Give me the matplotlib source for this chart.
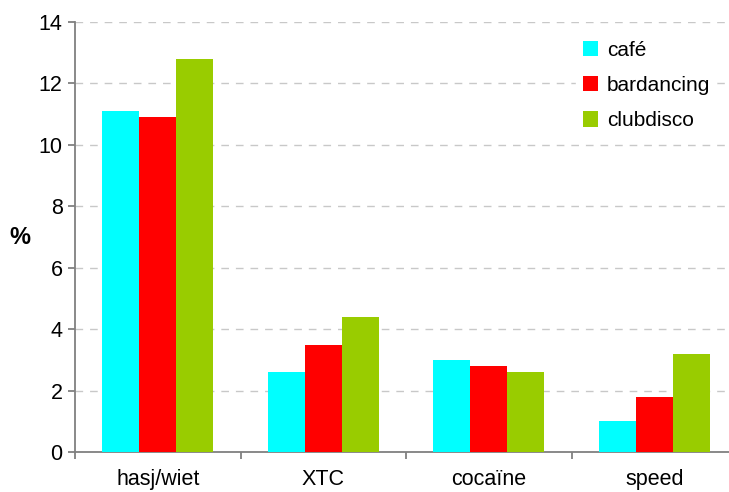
import numpy as np
import matplotlib
matplotlib.use("Agg")
import matplotlib.pyplot as plt

plt.rcParams['font.family'] = ['Liberation Sans', 'DejaVu Sans']

# Data
categories = ['hasj/wiet', 'XTC', 'cocaïne', 'speed']
series_names = ['café', 'bardancing', 'clubdisco']
cafe = [11.1, 2.6, 3.0, 1.0]
bardancing = [10.9, 3.5, 2.8, 1.8]
clubdisco = [12.8, 4.4, 2.6, 3.2]
colors = ['#00FFFF', '#FF0000', '#99CC00']

fig = plt.figure(figsize=(7.29, 4.92), dpi=100)
ax = fig.add_axes([75 / 729, 1 - 452 / 492, 662 / 729, 430 / 492])

x = np.arange(len(categories))
w = 0.224
for i, (vals, name) in enumerate(zip([cafe, bardancing, clubdisco], series_names)):
    ax.bar(x + (i - 1) * w, vals, width=w, color=colors[i], label=name, zorder=3)

ax.set_xlim(-0.5, len(categories) - 0.5)
ax.set_ylim(0, 14)
ax.set_yticks(np.arange(0, 15, 2))

# gridlines
ax.yaxis.grid(True, color='#C8C8C8', linestyle=(0, (5.5, 5)), linewidth=1, zorder=0)
ax.set_axisbelow(True)

# spines
for s in ['top', 'right']:
    ax.spines[s].set_visible(False)
ax.spines['left'].set_color('#808080')
ax.spines['bottom'].set_color('#808080')
ax.spines['left'].set_linewidth(1.3)
ax.spines['bottom'].set_linewidth(1.3)

# x ticks at boundaries, labels at centers
ax.set_xticks(np.arange(-0.5, len(categories), 1))
ax.set_xticklabels([])
ax.set_xticks(x, minor=True)
ax.set_xticklabels(categories, minor=True)
ax.tick_params(axis='x', which='major', length=5, width=1.3, color='#808080')
ax.tick_params(axis='x', which='minor', length=0, pad=12.5, labelsize=15.5)
ax.tick_params(axis='y', length=5, width=1.3, color='#808080', labelsize=15.5, pad=4)

ax.set_ylabel('%', rotation=0, fontsize=17, fontweight='bold', va='center', ha='center')
ax.yaxis.set_label_coords(-0.084, 0.5)

leg = ax.legend(loc='upper left', bbox_to_anchor=(566 / 729, 1 - 24 / 492),
                bbox_transform=fig.transFigure, frameon=True, fontsize=15,
                handlelength=0.75, handleheight=0.75, handletextpad=0.4,
                labelspacing=0.78, borderpad=0.3, fancybox=False)
leg.get_frame().set_edgecolor('white')
leg.get_frame().set_facecolor('white')
leg.get_frame().set_alpha(1)

fig.savefig('out.png', dpi=100)
